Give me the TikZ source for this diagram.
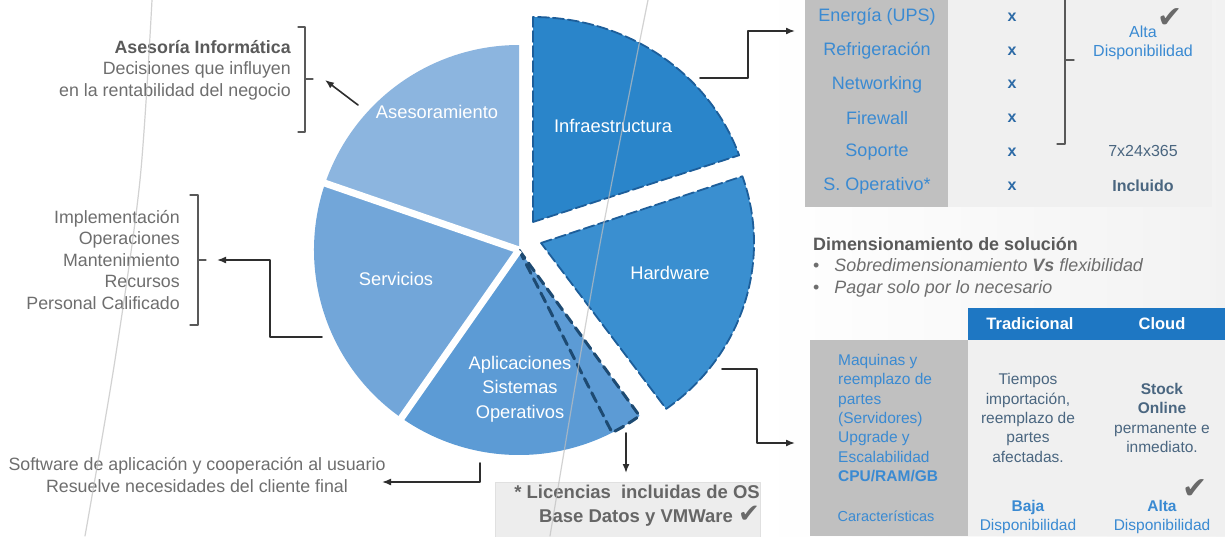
\documentclass[tikz,border=0pt]{standalone}
\usepackage{fontspec}
\setmainfont{Liberation Sans}
\newfontfamily\symfont{DejaVu Sans}
\usetikzlibrary{arrows.meta,positioning}

\definecolor{ases}{HTML}{8CB5DF}
\definecolor{serv}{HTML}{72A6D9}
\definecolor{apli}{HTML}{5C9BD5}
\definecolor{infra}{HTML}{2A85CA}
\definecolor{hard}{HTML}{3A8FD0}
\definecolor{dashc}{HTML}{1D5E9A}
\definecolor{subdashc}{HTML}{1D4A72}
\definecolor{txtgray}{HTML}{6E6E6E}
\definecolor{txtdark}{HTML}{5A5A5A}
\definecolor{tblue}{HTML}{3A8AD2}
\definecolor{xblue}{HTML}{2C6AA6}
\definecolor{slate}{HTML}{4A6680}
\definecolor{headblue}{HTML}{1E77C3}
\definecolor{colgray}{HTML}{C0C0C0}
\definecolor{panel}{HTML}{F0F0F0}
\definecolor{connc}{HTML}{2E2E2E}
\definecolor{chk}{HTML}{6A6A6A}

\tikzset{
  lbl/.style={inner sep=0pt,text=txtgray,font=\fontsize{17.8}{21.5}\selectfont},
  slicelbl/.style={inner sep=0pt,text=white,font=\fontsize{18.3}{24.5}\selectfont},
  tbl/.style={inner sep=0pt,text=tblue,font=\fontsize{18}{20}\selectfont},
  tbl2/.style={inner sep=0pt,text=tblue,font=\fontsize{15.5}{19.3}\selectfont},
  xmark/.style={inner sep=0pt,text=xblue,font=\fontsize{16}{16}\selectfont\bfseries},
  chkmark/.style={inner sep=0pt,text=chk,font=\symfont\fontsize{30}{30}\selectfont},
  conn/.style={draw=connc,line width=1.6pt,-{Latex[length=9pt,width=7pt]}},
  brace/.style={draw=black!65,line width=1.3pt},
  gap/.style={draw=white,line width=7pt,line cap=butt},
  dashedge/.style={draw=dashc,line width=1.8pt,dash pattern=on 11pt off 4pt},
  subdash/.style={draw=subdashc,line width=3pt,dash pattern=on 10pt off 6pt},
  deco/.style={draw=black!25,line width=1.2pt,opacity=.7},
}

\begin{document}
\begin{tikzpicture}[x=1pt,y=-1pt,line join=round,line cap=round]
\useasboundingbox (0,0) rectangle (1225,536);
\fill[white] (0,0) rectangle (1225,536);
\shade[left color=white,right color=black!5] (760,0) rectangle (1225,536);

\def\r{205}
\def\rr{212}
\path
(519,250) coordinate (O)
(533,222) coordinate (O_1)
(541,243) coordinate (O_2);
\fill[ases] (O) -- ++(199:\r) arc[start angle=199,end angle=270,radius=\r] -- cycle;
\fill[serv] (O) -- ++(125:\r) arc[start angle=125,end angle=199,radius=\r] -- cycle;
\fill[apli] (O) -- ++(54:\r) arc[start angle=54,end angle=125,radius=\r] -- cycle;
\draw[subdash] (O) -- ++(54:\r) arc[start angle=54,end angle=63,radius=\r] -- cycle;
\draw[gap] (O) -- ++(199:\rr) (O) -- ++(125:\rr);
\filldraw[fill=infra,dashedge] (O_1) -- ++(270:218 and \r) arc[start angle=270,end angle=341,x radius=218,y radius=\r] -- cycle;
\filldraw[fill=hard,dashedge] (O_2) -- ++(-19:213 and \r) arc[start angle=-19,end angle=54,x radius=213,y radius=\r] -- cycle;

\node[slicelbl] (ases) at (437,112) {Asesoramiento};
\node[slicelbl] (infra) at (613,126) {Infraestructura};
\node[slicelbl] (serv) at (396,279) {Servicios};
\node[slicelbl] (hard) at (670,273) {Hardware};
\node[slicelbl,align=center] (apli) at (520,389) {Aplicaciones\\Sistemas\\Operativos};

\node[lbl,anchor=east,align=right] (asesoria) at (291,70) {\textcolor{txtdark}{\textbf{Asesoría Informática}}\\Decisiones que influyen\\en la rentabilidad del negocio};
\node[lbl,anchor=east,align=right] (servtxt) at (180,260) {Implementación\\Operaciones\\Mantenimiento\\Recursos\\Personal Calificado};
\node[lbl,align=center] (aplitxt) at (197,475) {Software de aplicación y cooperación al usuario\\Resuelve necesidades del cliente final};
\draw[brace] (298,27) -- (305,27) -- (305,132) -- (298,132) (305,79) -- (313,79);
\draw[brace] (190,195) -- (198,195) -- (198,325) -- (190,325) (198,260) -- (206,260);

\path
(358,105) coordinate (ases_out) (325,80) coordinate (ases_in)
(322,337) coordinate (serv_out) (217,260) coordinate (serv_in)
(480,463) coordinate (apli_out) (382,482) coordinate (apli_in)
(626,433) coordinate (lic_out)
(700,78) coordinate (infra_out) (795,31) coordinate (tab1_in)
(722,369) coordinate (hard_out) (795,443) coordinate (tab2_in);

\node[fill=black!7,draw=black!12,minimum width=265pt,minimum height=60pt,anchor=north west,inner sep=0pt] (licbox) at (495,482) {};
\node[lbl,anchor=north east,align=right,text=black!60,font=\fontsize{18.5}{24}\selectfont\bfseries] (lictxt) at (760,485) {* Licencias\hspace{10pt}incluidas de OS\hspace{12pt}\\Base Datos y VMWare {\symfont\fontsize{26}{24}\selectfont\color{chk}✔}};

\draw[conn] (ases_out) -- (ases_in);
\draw[conn] (serv_out) -- ++(-52,0) |- (serv_in);
\draw[conn] (apli_out) |- (apli_in);
\draw[conn,shorten >=9pt] (lic_out) -- (lic_out |- licbox.north);
\draw[conn] (infra_out) -- ++(48,0) |- (tab1_in);
\draw[conn] (hard_out) -- ++(35,0) |- (tab2_in);

\fill[colgray] (805,0) rectangle (948,207);
\fill[panel] (948,0) rectangle (1212,207);
\foreach \t [count=\i] in {Energía (UPS),Refrigeración,Networking,Firewall,Soporte,S. Operativo*}{
  \node[tbl] (row_\i) at (877,{17+33.8*(\i-1)}) {\t};
  \node[xmark] (x_\i) at (1012,{17+33.8*(\i-1)}) {x};
}
\node[tbl,font=\fontsize{16}{18.5}\selectfont,align=center] (alta_1) at (1143,43) {Alta\\Disponibilidad};
\node[chkmark] (chk_1) at (1170,18) {✔};
\node[tbl,text=slate,font=\fontsize{16}{18}\selectfont] (turno) at (1143,151) {7x24x365};
\node[tbl,text=slate,font=\fontsize{16}{18}\selectfont\bfseries] (incl) at (1143,186) {Incluido};
\draw[brace] (1057,144) -- (1065,144) -- (1065,0) (1065,60) -- (1074,60);

\node[lbl,anchor=west,align=left,font=\fontsize{17.9}{21.5}\selectfont] (dim) at (813,267) {\textcolor{txtdark}{\textbf{Dimensionamiento de solución}}\\\textbullet\hspace{15pt}\textit{Sobredimensionamiento \textbf{Vs} flexibilidad}\\\textbullet\hspace{15pt}\textit{Pagar solo por lo necesario}};

\fill[headblue] (968,308) rectangle (1225,340);
\fill[colgray] (810,340) rectangle (968,536);
\fill[panel] (968,340) rectangle (1225,536);
\node[tbl,text=white,font=\fontsize{16.5}{18}\selectfont\bfseries] (trad) at (1030,324) {Tradicional};
\node[tbl,text=white,font=\fontsize{16.5}{18}\selectfont\bfseries] (cloud) at (1162,324) {Cloud};
\node[tbl2,anchor=west,align=left] (maq) at (838,418) {Maquinas y\\reemplazo de\\partes\\(Servidores)\\Upgrade y\\Escalabilidad\\\textbf{CPU/RAM/GB}};
\node[tbl2,text=slate,align=center] (tiempos) at (1028,418) {Tiempos\\importación,\\reemplazo de\\partes\\afectadas.};
\node[tbl2,text=slate,align=center] (stock) at (1162,418) {\textbf{Stock}\\\textbf{Online}\\permanente e\\inmediato.};
\node[tbl2,font=\fontsize{14.5}{15}\selectfont] (carac) at (886,516) {Características};
\node[tbl2,align=center] (baja) at (1028,517) {\textbf{Baja}\\Disponibilidad};
\node[tbl2,align=center] (alta_2) at (1162,517) {\textbf{Alta}\\Disponibilidad};
\node[chkmark] (chk_2) at (1195,489) {✔};

\draw[deco] plot[smooth] coordinates {(152,0) (140,180) (115,360) (85,536)};
\draw[deco] plot[smooth] coordinates {(648,0) (597,260) (550,536)};
\end{tikzpicture}
\end{document}
